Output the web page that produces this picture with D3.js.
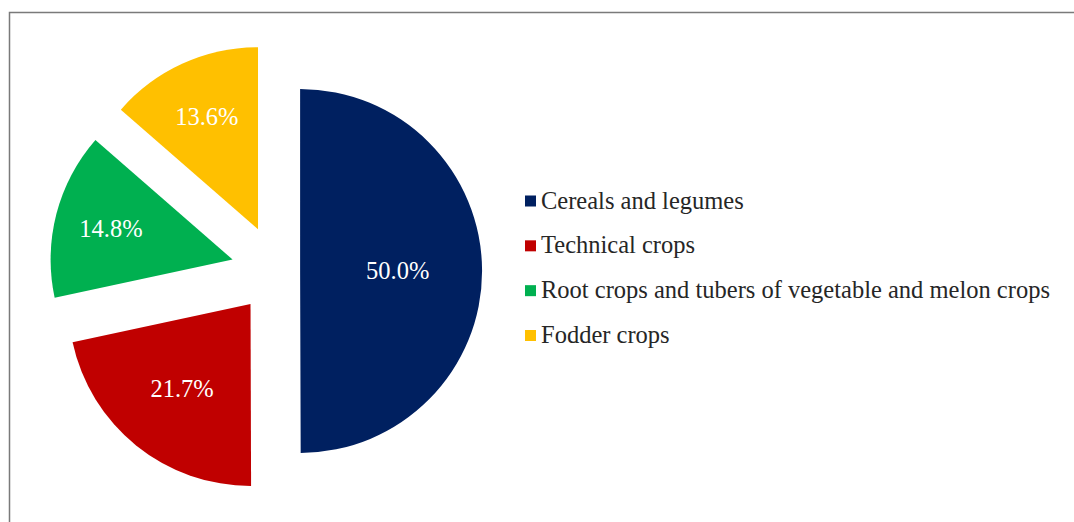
<!DOCTYPE html>
<html>
<head>
<meta charset="utf-8">
<script src="https://cdn.jsdelivr.net/npm/d3@7"></script>
<style>
  html, body { margin: 0; padding: 0; background: #fff; }
  svg { display: block; }
</style>
</head>
<body>
<div id="chart"></div>
<script>
// data
const categories = [
    "Cereals and legumes",
    "Technical crops",
    "Root crops and tubers of vegetable and melon crops",
    "Fodder crops"
];
const shares = [50.0, 21.7, 14.8, 13.6];
const colors = ["#002060", "#C00000", "#00B050", "#FFC000"];

// explode distance and label distance, as fractions of the radius (Excel-like)
const explode = [0.127, 0.232, 0.252, 0.252];
const labelAt = [0.536, 0.60, 0.69, 0.68];

const W = 1074, H = 522;
const R = 182;
const center = { x: 277, y: 271 };
const FONT = "'Liberation Serif', 'Times New Roman', serif";

const svg = d3.select("#chart").append("svg")
    .attr("width", W).attr("height", H)
    .attr("viewBox", `0 0 ${W} ${H}`);

// chart frame, only top and left edges fall inside the picture
svg.append("rect")
    .attr("x", 9.5).attr("y", 12.5)
    .attr("width", 1200).attr("height", 700)
    .attr("fill", "none")
    .attr("stroke", "#7a7a7a").attr("stroke-width", 1.5);

const pie = d3.pie().sort(null).value(d => d)(shares);
const arc = d3.arc().innerRadius(0).outerRadius(R);

// unit vector towards the middle of a slice (0 rad = 12 o'clock, clockwise)
const dir = d => {
    const a = (d.startAngle + d.endAngle) / 2;
    return [Math.sin(a), -Math.cos(a)];
};

const slices = svg.append("g")
    .attr("transform", `translate(${center.x}, ${center.y})`)
    .selectAll("g.slice")
    .data(pie)
    .join("g")
    .attr("class", "slice")
    .attr("transform", (d, i) => {
        const [ux, uy] = dir(d);
        return `translate(${ux * explode[i] * R}, ${uy * explode[i] * R})`;
    });

slices.append("path")
    .attr("d", arc)
    .attr("fill", (d, i) => colors[i]);

slices.append("text")
    .attr("x", (d, i) => dir(d)[0] * labelAt[i] * R)
    .attr("y", (d, i) => dir(d)[1] * labelAt[i] * R)
    .attr("text-anchor", "middle")
    .attr("dominant-baseline", "central")
    .style("font-family", FONT)
    .style("font-size", "24.5px")
    .style("fill", "#fff")
    .text(d => d.value.toFixed(1) + "%");

// legend
const legendY = d3.scalePoint().domain(categories).range([201, 335.5]);
const legend = svg.append("g").selectAll("g")
    .data(categories)
    .join("g")
    .attr("transform", d => `translate(525, ${legendY(d)})`);

legend.append("rect")
    .attr("x", 0).attr("y", -5.5)
    .attr("width", 11).attr("height", 11)
    .attr("fill", (d, i) => colors[i]);

legend.append("text")
    .attr("x", 16).attr("y", 7.5)
    .style("font-family", FONT)
    .style("font-size", "24.5px")
    .style("fill", "#262626")
    .text(d => d);
</script>
</body>
</html>
